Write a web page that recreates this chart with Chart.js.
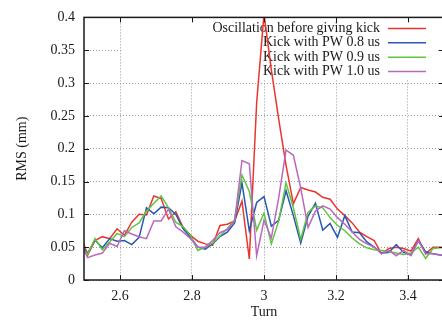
<!DOCTYPE html>
<html>
<head>
<meta charset="utf-8">
<title>RMS vs turn</title>
<script src="https://cdn.jsdelivr.net/npm/chart.js@4/dist/chart.umd.min.js"></script>
<style>
	html, body { margin: 0; padding: 0; background: #fff; }
	#frame { width: 442px; height: 324px; overflow: hidden; }
	#wrap { width: 450px; height: 324px; }
</style>
</head>
<body>
<div id="frame"><div id="wrap"><canvas id="rms-chart"></canvas></div></div>
<script>
// Turn number of each sample
const turns = [
	2.4898, 2.5102, 2.5306, 2.5510, 2.5714, 2.5918, 2.6122, 2.6327, 2.6531, 2.6735,
	2.6939, 2.7143, 2.7347, 2.7551, 2.7755, 2.7959, 2.8163, 2.8367, 2.8571, 2.8776,
	2.8980, 2.9184, 2.9388, 2.9592, 2.9796, 3.0000, 3.0204, 3.0408, 3.0612, 3.0816,
	3.1020, 3.1224, 3.1429, 3.1633, 3.1837, 3.2041, 3.2245, 3.2449, 3.2653, 3.2857,
	3.3061, 3.3265, 3.3469, 3.3673, 3.3878, 3.4082, 3.4286, 3.4490, 3.4694, 3.4898,
	3.5102,
];

// RMS (mm) per turn
const rmsNoKick = [
	0.070, 0.038, 0.060, 0.066, 0.063, 0.078, 0.068, 0.088, 0.100, 0.099,
	0.128, 0.124, 0.093, 0.104, 0.080, 0.068, 0.059, 0.055, 0.053, 0.083,
	0.085, 0.090, 0.120, 0.032, 0.270, 0.405, 0.320, 0.245, 0.175, 0.116,
	0.141, 0.137, 0.134, 0.126, 0.123, 0.108, 0.098, 0.087, 0.073, 0.066,
	0.060, 0.040, 0.048, 0.050, 0.048, 0.044, 0.063, 0.040, 0.050, 0.050,
	0.050,
];
const rmsPw08 = [
	0.052, 0.041, 0.061, 0.049, 0.063, 0.059, 0.060, 0.054, 0.065, 0.110,
	0.101, 0.111, 0.110, 0.100, 0.078, 0.065, 0.050, 0.047, 0.055, 0.066,
	0.073, 0.087, 0.148, 0.075, 0.118, 0.127, 0.082, 0.091, 0.136, 0.098,
	0.056, 0.097, 0.117, 0.076, 0.086, 0.065, 0.098, 0.073, 0.072, 0.058,
	0.050, 0.041, 0.042, 0.054, 0.042, 0.038, 0.060, 0.043, 0.040, 0.038,
	0.037,
];
const rmsPw09 = [
	0.052, 0.039, 0.063, 0.046, 0.058, 0.071, 0.066, 0.080, 0.087, 0.105,
	0.117, 0.128, 0.110, 0.088, 0.081, 0.068, 0.045, 0.050, 0.056, 0.067,
	0.078, 0.092, 0.160, 0.135, 0.076, 0.102, 0.055, 0.090, 0.148, 0.110,
	0.062, 0.103, 0.113, 0.110, 0.095, 0.083, 0.075, 0.064, 0.055, 0.049,
	0.046, 0.045, 0.043, 0.041, 0.039, 0.041, 0.050, 0.033, 0.048, 0.049,
	0.049,
];
const rmsPw10 = [
	0.056, 0.034, 0.038, 0.041, 0.056, 0.051, 0.075, 0.070, 0.066, 0.063,
	0.090, 0.090, 0.108, 0.081, 0.073, 0.063, 0.050, 0.050, 0.060, 0.072,
	0.077, 0.090, 0.182, 0.177, 0.037, 0.091, 0.064, 0.125, 0.198, 0.190,
	0.140, 0.080, 0.105, 0.113, 0.108, 0.095, 0.085, 0.073, 0.062, 0.055,
	0.050, 0.040, 0.045, 0.037, 0.045, 0.037, 0.060, 0.040, 0.040, 0.038,
	0.038,
];

const seriesNames = [
	"Oscillation before giving kick",
	"Kick with PW 0.8 us",
	"Kick with PW 0.9 us",
	"Kick with PW 1.0 us",
];
const seriesColors = ["rgb(236, 52, 44)", "rgb(40, 88, 178)", "rgb(96, 196, 64)", "rgb(186, 104, 190)"];

const xTicks = [2.6, 2.8, 3, 3.2, 3.4];
const yTicks = [0, 0.05, 0.1, 0.15, 0.2, 0.25, 0.3, 0.35, 0.4];

const FONT = '"Liberation Serif", "Times New Roman", serif';
const INK = "#1a1a1a";

function toPoints(values) {
	return values.map((v, i) => ({ x: turns[i], y: v }));
}

// Key in the top-right corner, plus a closed frame with inward ticks
const plotFrame = {
	id: "plotFrame",
	beforeDatasetsDraw(chart) {
		const { ctx, chartArea: a } = chart;
		ctx.save();
		// key panel hides the grid behind it
		ctx.fillStyle = "#fff";
		ctx.fillRect(a.left + 39, a.top, a.right - a.left - 47, 62);
		ctx.font = "14px " + FONT;
		ctx.textAlign = "right";
		ctx.textBaseline = "middle";
		seriesNames.forEach((name, i) => {
			const y = a.top + 11 + i * 14.4;
			ctx.fillStyle = INK;
			ctx.fillText(name, a.right - 64, y);
			ctx.strokeStyle = seriesColors[i];
			ctx.lineWidth = 1.5;
			ctx.beginPath();
			ctx.moveTo(a.right - 56, y);
			ctx.lineTo(a.right - 18, y);
			ctx.stroke();
		});
		ctx.restore();
	},
	afterDraw(chart) {
		const { ctx, chartArea: a, scales } = chart;
		ctx.save();
		ctx.strokeStyle = INK;
		ctx.lineWidth = 1.5;
		ctx.strokeRect(a.left, a.top, a.right - a.left, a.bottom - a.top);
		ctx.lineWidth = 1;
		ctx.beginPath();
		xTicks.forEach((t) => {
			const x = Math.round(scales.x.getPixelForValue(t)) + 0.5;
			ctx.moveTo(x, a.bottom);
			ctx.lineTo(x, a.bottom - 5);
			ctx.moveTo(x, a.top);
			ctx.lineTo(x, a.top + 5);
		});
		yTicks.forEach((t) => {
			const y = Math.round(scales.y.getPixelForValue(t)) + 0.5;
			ctx.moveTo(a.left, y);
			ctx.lineTo(a.left + 5, y);
			ctx.moveTo(a.right, y);
			ctx.lineTo(a.right - 5, y);
		});
		ctx.stroke();
		ctx.restore();
	},
};

const chart = new Chart(document.getElementById("rms-chart").getContext("2d"), {
	type: "line",
	data: {
		datasets: [rmsNoKick, rmsPw08, rmsPw09, rmsPw10].map((values, i) => ({
			label: seriesNames[i],
			data: toPoints(values),
			borderColor: seriesColors[i],
			backgroundColor: seriesColors[i],
			borderWidth: 1.5,
			pointRadius: 0,
			tension: 0,
			fill: false,
			order: 4 - i,
		})),
	},
	options: {
		responsive: true,
		maintainAspectRatio: false,
		animation: false,
		layout: {
			padding: { top: 15, right: 6, left: 0, bottom: 0 },
		},
		plugins: {
			legend: { display: false },
			tooltip: { enabled: false },
		},
		scales: {
			x: {
				type: "linear",
				min: 2.5,
				max: 3.5,
				afterBuildTicks: (scale) => {
					scale.ticks = xTicks.map((v) => ({ value: v }));
				},
				afterFit: (scale) => {
					scale.height = 44;
				},
				grid: { color: "#9a9a9a", lineWidth: 1, drawTicks: false },
				border: { display: false, dash: [1, 2] },
				ticks: {
					padding: 8,
					color: INK,
					font: { family: FONT, size: 14 },
					maxRotation: 0,
					autoSkip: false,
					callback: (v) => String(v),
				},
				title: {
					display: true,
					text: "Turn",
					color: INK,
					font: { family: FONT, size: 14 },
					padding: { top: 0, bottom: 3 },
				},
			},
			y: {
				min: 0,
				max: 0.4,
				afterBuildTicks: (scale) => {
					scale.ticks = yTicks.map((v) => ({ value: v }));
				},
				afterFit: (scale) => {
					scale.width = 84;
				},
				grid: { color: "#9a9a9a", lineWidth: 1, drawTicks: false },
				border: { display: false, dash: [1, 2] },
				ticks: {
					padding: 9,
					color: INK,
					font: { family: FONT, size: 14 },
					autoSkip: false,
					callback: (v) => String(v),
				},
				title: {
					display: true,
					text: "RMS (mm)",
					color: INK,
					font: { family: FONT, size: 14 },
					padding: { top: 14, bottom: 0 },
				},
			},
		},
	},
	plugins: [plotFrame],
});
</script>
</body>
</html>
